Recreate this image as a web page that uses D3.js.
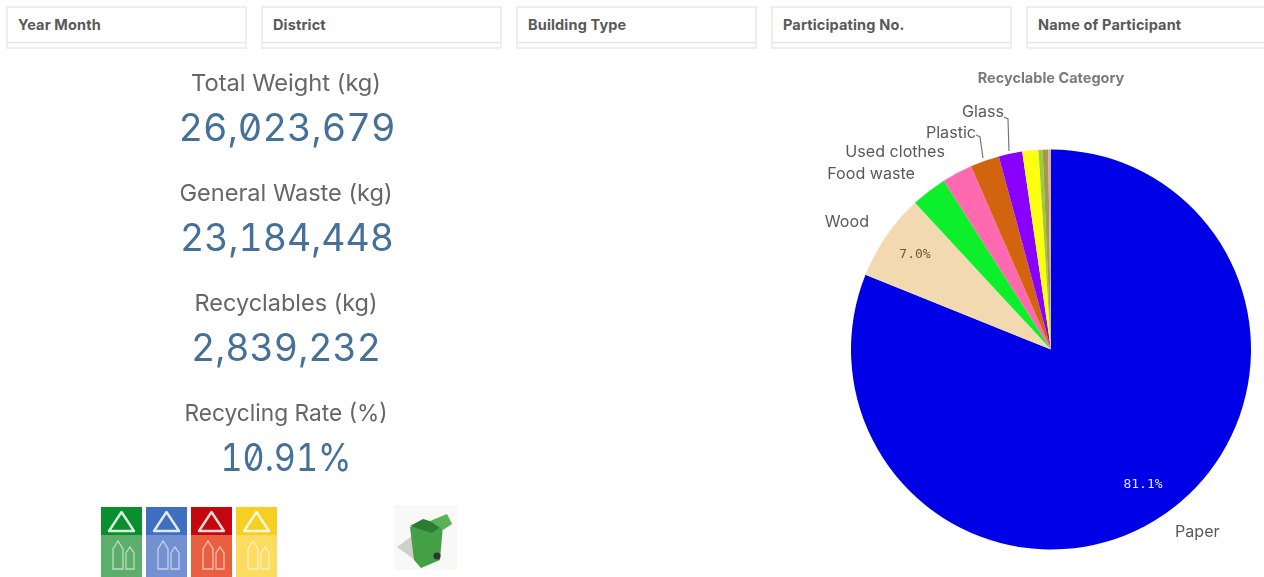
<!DOCTYPE html>
<html><head><meta charset="utf-8">
<script src="https://cdn.jsdelivr.net/npm/d3@7/dist/d3.min.js"></script>
<style>
html,body{margin:0;padding:0;background:#fff;overflow:hidden}
svg{display:block;filter:blur(0.5px)}
text{font-family:Inter,"Noto Sans",sans-serif}
</style></head><body>
<svg id="c" width="1264" height="577"></svg>
<script>
// ---- data ----
const filterLabels = ["Year Month","District","Building Type","Participating No.","Name of Participant"];
const kpiLabels = ["Total Weight (kg)","General Waste (kg)","Recyclables (kg)","Recycling Rate (%)"];
const kpiValues = ["26,023,679","23,184,448","2,839,232","10.91%"];
const chartTitle = "Recyclable Category";
const categories = ["Paper","Wood","Food waste","Used clothes","Plastic","Glass","Unlabelled 1","Unlabelled 2","Unlabelled 3","Unlabelled 4"];
const shares = [81.1,7.0,2.9,2.45,2.35,1.9,1.3,0.33,0.45,0.22];
const sliceColors = ["#0000e6","#f2d9b0","#0cf02c","#ff69b0","#d2640f","#8a00ff","#ffff12","#9acd32","#a09a50","#e0a8a0"];

// ---- layout (not data) ----
const svg = d3.select("#c");
const cx = 1051, cy = 349.5, R = 200;
const filterX = d3.scalePoint().domain(filterLabels).range([6,1026]);
const filterW = 239;
const kpiY = d3.scalePoint().domain(kpiLabels).range([93,423]);
const kpiValueWidth = [217,214,190,131];
const kpiLabelWidth = [190,213,183,203];
const labelPos = {"Paper":[1175,537,"start"],"Wood":[869,227,"end"],"Food waste":[915,179,"end"],
  "Used clothes":[945,157,"end"],"Plastic":[976,138,"end"],"Glass":[1004,117,"end"]};
const leaders = {"Plastic":[[976,135],[980,137],[983,158]],"Glass":[[1004,117],[1008,119],[1009,151]]};
const pctShown = {"Paper":[1143,488],"Wood":[915,258]};

// ---- filter boxes ----
const f = svg.append("g").selectAll("g").data(filterLabels).join("g")
  .attr("transform",d=>`translate(${filterX(d)},0)`);
f.append("rect").attr("x",1).attr("y",7).attr("width",filterW).attr("height",41)
  .attr("fill","#fff").attr("stroke","#e9e9e9").attr("stroke-width",1.5);
f.append("line").attr("x1",1).attr("x2",filterW+1).attr("y1",42.5).attr("y2",42.5)
  .attr("stroke","#e6e6e6").attr("stroke-width",1.5);
f.append("text").attr("x",12).attr("y",30).attr("font-size",14.5).attr("font-weight",700)
  .attr("letter-spacing","0.15").attr("fill","#595959").text(d=>d);

// ---- KPIs ----
const k = svg.append("g").selectAll("g").data(kpiLabels).join("g");
k.append("text").attr("x",(d,i)=>286-kpiLabelWidth[i]/2).attr("y",d=>kpiY(d)-2)
  .attr("font-size",23.4).attr("fill","#666")
  .attr("textLength",(d,i)=>kpiLabelWidth[i]).attr("lengthAdjust","spacingAndGlyphs").text(d=>d);
k.append("text").attr("x",(d,i)=>[287,287,286,286][i]-kpiValueWidth[i]/2).attr("y",d=>kpiY(d)+48)
  .attr("font-size",38).attr("fill","#44709a")
  .attr("textLength",(d,i)=>kpiValueWidth[i]).attr("lengthAdjust","spacingAndGlyphs")
  .style("font-feature-settings",'"zero","tnum"').text((d,i)=>kpiValues[i]);

// ---- pie ----
const pie = d3.pie().sort(null).value(d=>d.v).startAngle(0).endAngle(2*Math.PI);
const arc = d3.arc().innerRadius(0).outerRadius(R);
const rows = categories.map((c,i)=>({c,v:shares[i],col:sliceColors[i]}));
const gp = svg.append("g").attr("transform",`translate(${cx},${cy})`);
gp.selectAll("path").data(pie(rows)).join("path").attr("d",arc).attr("fill",d=>d.data.col);

svg.append("text").attr("x",1051).attr("y",83).attr("text-anchor","middle").attr("font-size",14.5)
  .attr("font-weight",700).attr("fill","#7a7a7a").text(chartTitle);

svg.append("g").selectAll("text").data(Object.keys(labelPos)).join("text")
  .attr("x",d=>labelPos[d][0]).attr("y",d=>labelPos[d][1]).attr("text-anchor",d=>labelPos[d][2])
  .attr("font-size",16.1).attr("fill","#595959").text(d=>d);
svg.append("g").selectAll("path").data(Object.values(leaders)).join("path")
  .attr("d",d3.line()).attr("fill","none").attr("stroke","#777").attr("stroke-width",1.2);
svg.append("g").selectAll("text").data(Object.keys(pctShown)).join("text")
  .attr("x",d=>pctShown[d][0]).attr("y",d=>pctShown[d][1]).attr("text-anchor","middle")
  .style("font-size","13px").style("font-family",'"DejaVu Sans Mono"')
  .attr("fill",d=>d==="Paper"?"#e8e8ff":"#6b5a3a")
  .text(d=>shares[categories.indexOf(d)].toFixed(1)+"%");

// ---- decorative recycling signs ----
const signs = [["#0a8f2e","#5cae6a",101],["#3f6fc0","#7390d2",146],["#c4060f","#e8603f",191],["#f6d020","#fbdc60",236]];
const s = svg.append("g").selectAll("g").data(signs).join("g").attr("transform",d=>`translate(${d[2]},507)`);
s.append("rect").attr("width",41).attr("height",70).attr("fill",d=>d[1]);
s.append("rect").attr("width",41).attr("height",28).attr("fill",d=>d[0]);
s.append("path").attr("d","M20.5 5L33 24H8Z").attr("fill","none").attr("stroke","#fff")
  .attr("stroke-width",2.4).attr("stroke-linejoin","round").attr("stroke-opacity",.85);
s.append("path").attr("d","M12 62V42L17 34L22 42V62ZM25 62V46L29 40L33 46V62Z").attr("fill","none").attr("stroke","#fff").attr("stroke-width",1.3).attr("stroke-opacity",.6);

// ---- decorative bin ----
const b = svg.append("g");
b.append("rect").attr("x",394).attr("y",505).attr("width",63).attr("height",65).attr("fill","#f8f8f7");
b.append("path").attr("d","M397 547L412 536L422 566L412 558Z").attr("fill","#cfcfcb");
b.append("path").attr("d","M410 527L443 524L440 560L421 568L414 560Z").attr("fill","#43a047");
b.append("path").attr("d","M410 526L423 519L443 525L432 533Z").attr("fill","#2c7d33");
b.append("path").attr("d","M430 521L447 514L452 524L443 530Z").attr("fill","#57b356");
b.append("circle").attr("cx",437).attr("cy",556).attr("r",3.5).attr("fill","#333");
</script>
</body></html>
